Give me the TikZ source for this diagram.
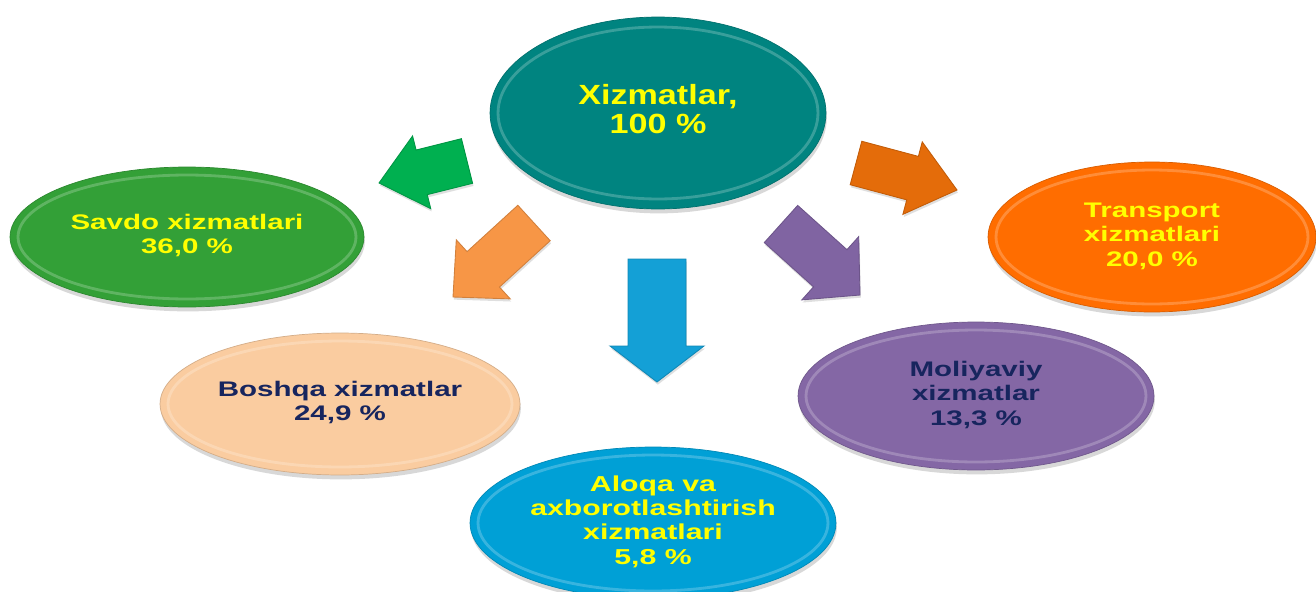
\documentclass[tikz,border=0pt]{standalone}
\usepackage{fontspec}
\setmainfont{Liberation Sans}
\usepackage{graphicx}
\usetikzlibrary{shapes.geometric,calc,shadows}
\definecolor{cTeal}{RGB}{0,132,128}
\definecolor{cGreen}{RGB}{51,160,55}
\definecolor{cOrange}{RGB}{255,109,0}
\definecolor{cPeach}{RGB}{250,204,160}
\definecolor{cPurple}{RGB}{132,103,165}
\definecolor{cBlue}{RGB}{0,160,214}
\definecolor{aGreen}{RGB}{0,176,80}
\definecolor{aPeach}{RGB}{247,150,70}
\definecolor{aBlue}{RGB}{20,160,214}
\definecolor{aPurple}{RGB}{128,100,162}
\definecolor{aOrange}{RGB}{228,108,10}
\definecolor{tYellow}{RGB}{255,255,0}
\definecolor{tNavy}{RGB}{23,37,94}
\newcommand{\lbl}[4]{\scalebox{#1}[1]{\fontsize{#2}{#3}\selectfont\bfseries\begin{tabular}{@{}c@{}}#4\end{tabular}}}
\newcommand{\blockarrow}[6]{%
  \coordinate (#1-b) at ($(#2)!#5!(#1)$);
  \filldraw[arrowbody=#6] ($(#1)!#3!90:(#2)$) -- ($(#1-b)!#3!90:(#2)$) -- ($(#1-b)!#4!90:(#2)$) -- (#2)
    -- ($(#1-b)!#4!-90:(#2)$) -- ($(#1-b)!#3!-90:(#2)$) -- ($(#1)!#3!-90:(#2)$) -- cycle;}
\tikzset{
  bub/.style={ellipse, inner sep=0pt, fill=#1, draw=#1!85!black, line width=0.4pt,
    drop shadow={shadow xshift=0.5pt, shadow yshift=-2.5pt, opacity=0.3}},
  rim/.style={draw=white, opacity=0.22, line width=1.6pt},
  arrowbody/.style={fill=#1, draw=#1!85!black, line width=0.5pt,
    drop shadow={shadow xshift=0.5pt, shadow yshift=-1.5pt, opacity=0.25}},
}
\begin{document}
\begin{tikzpicture}[x=0.02cm,y=-0.02cm]
\useasboundingbox (0,0) rectangle (1316,592);
\fill[white] (0,0) rectangle (1316,592);
\clip (0,0) rectangle (1316,592);

% arrows
\coordinate (gT) at (467,161); \coordinate (gP) at (379,183);
\coordinate (pT) at (534,223); \coordinate (pP) at (453,297);
\coordinate (bT) at (657,259); \coordinate (bP) at (657,382);
\coordinate (uT) at (781,224); \coordinate (uP) at (860,295);
\coordinate (oT) at (856,163); \coordinate (oP) at (957,190);
\blockarrow{gT}{gP}{0.46cm}{0.75cm}{0.88cm}{aGreen}
\blockarrow{pT}{pP}{0.48cm}{0.80cm}{0.82cm}{aPeach}
\blockarrow{bT}{bP}{0.58cm}{0.94cm}{0.72cm}{aBlue}
\blockarrow{uT}{uP}{0.50cm}{0.85cm}{0.80cm}{aPurple}
\blockarrow{oT}{oP}{0.45cm}{0.75cm}{0.92cm}{aOrange}

% ellipses
\node[bub=cTeal, minimum width=6.72cm, minimum height=3.84cm, text=tYellow] (top) at (658,113)
  {\lbl{1.23}{15.8pt}{16.4pt}{Xizmatlar,\\100 \%}};
\draw[rim] (top.center) ellipse [x radius=3.2cm, y radius=1.72cm];

\node[bub=cGreen, minimum width=7.08cm, minimum height=2.8cm, text=tYellow] (savdo) at (187,237)
  {\lbl{1.4}{12pt}{13.8pt}{Savdo xizmatlari\\36,0 \%}};
\draw[rim] (savdo.center) ellipse [x radius=3.38cm, y radius=1.24cm];

\node[bub=cOrange, minimum width=6.56cm, minimum height=3.0cm, text=tYellow] (trans) at (1152,237)
  {\lbl{1.4}{12pt}{14.2pt}{Transport\\xizmatlari\\20,0 \%}};
\draw[rim] (trans.center) ellipse [x radius=3.12cm, y radius=1.34cm];

\node[bub=cPeach, minimum width=7.2cm, minimum height=2.84cm, text=tNavy] (boshqa) at (340,404)
  {\lbl{1.4}{12pt}{13.8pt}{Boshqa xizmatlar\\24,9 \%}};
\draw[rim] (boshqa.center) ellipse [x radius=3.44cm, y radius=1.26cm];

\node[bub=cPurple, minimum width=7.12cm, minimum height=2.96cm, text=tNavy] (moliya) at (976,396)
  {\lbl{1.4}{12pt}{14pt}{Moliyaviy\\xizmatlar\\13,3 \%}};
\draw[rim] (moliya.center) ellipse [x radius=3.4cm, y radius=1.32cm];

\node[bub=cBlue, minimum width=7.32cm, minimum height=3.04cm, text=tYellow] (aloqa) at (653,523)
  {\lbl{1.4}{12.3pt}{13.8pt}{Aloqa va\\axborotlashtirish\\xizmatlari\\5,8 \%}};
\draw[rim] (aloqa.center) ellipse [x radius=3.5cm, y radius=1.36cm];
\end{tikzpicture}
\end{document}
